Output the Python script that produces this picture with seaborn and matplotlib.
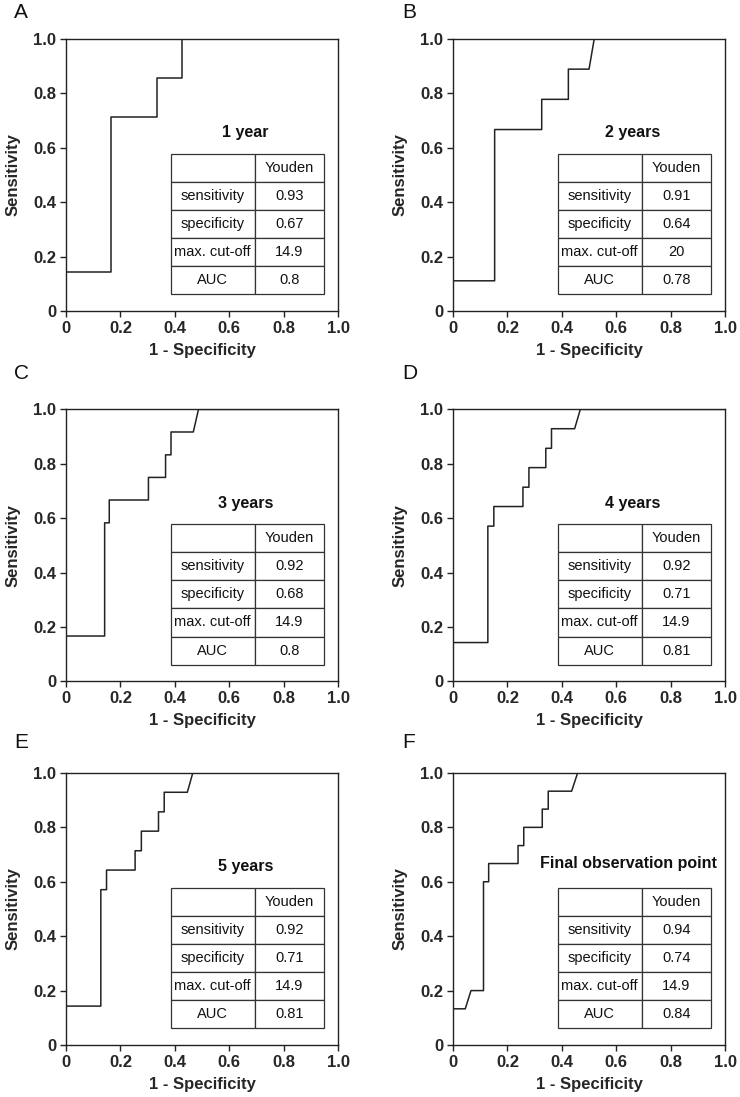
import matplotlib
matplotlib.use('Agg')
from matplotlib import pyplot as plt
import pandas as pd
import seaborn as sns

# ROC curve vertices (1 - specificity, sensitivity)
fpr_a = [0, 0.167, 0.167, 0.333, 0.333, 0.428, 0.428, 1.0]
tpr_a = [0.143, 0.143, 0.714, 0.714, 0.857, 0.857, 1.0, 1.0]

fpr_b = [0, 0.153, 0.153, 0.326, 0.326, 0.424, 0.424, 0.500, 0.519, 1.0]
tpr_b = [0.111, 0.111, 0.667, 0.667, 0.778, 0.778, 0.889, 0.889, 1.0, 1.0]

fpr_c = [0, 0.142, 0.142, 0.159, 0.159, 0.303, 0.303, 0.366, 0.366, 0.386, 0.386, 0.468, 0.487, 1.0]
tpr_c = [0.167, 0.167, 0.583, 0.583, 0.667, 0.667, 0.750, 0.750, 0.833, 0.833, 0.917, 0.917, 1.0, 1.0]

fpr_d = [0, 0.128, 0.128, 0.150, 0.150, 0.257, 0.257, 0.279, 0.279, 0.341, 0.341, 0.362, 0.362, 0.447, 0.468, 1.0]
tpr_d = [0.143, 0.143, 0.571, 0.571, 0.643, 0.643, 0.714, 0.714, 0.786, 0.786, 0.857, 0.857, 0.929, 0.929, 1.0, 1.0]

fpr_e = [0, 0.128, 0.128, 0.149, 0.149, 0.254, 0.254, 0.277, 0.277, 0.340, 0.340, 0.361, 0.361, 0.446, 0.466, 1.0]
tpr_e = [0.143, 0.143, 0.571, 0.571, 0.643, 0.643, 0.714, 0.714, 0.786, 0.786, 0.857, 0.857, 0.929, 0.929, 1.0, 1.0]

fpr_f = [0, 0.045, 0.066, 0.112, 0.112, 0.131, 0.131, 0.239, 0.239, 0.260, 0.260, 0.328, 0.328, 0.350, 0.350, 0.436, 0.458, 1.0]
tpr_f = [0.133, 0.133, 0.200, 0.200, 0.600, 0.600, 0.667, 0.667, 0.733, 0.733, 0.800, 0.800, 0.867, 0.867, 0.933, 0.933, 1.0, 1.0]

# table contents
panel_letters = ['A', 'B', 'C', 'D', 'E', 'F']
panel_titles = ['1 year', '2 years', '3 years', '4 years', '5 years', 'Final observation point']
row_names = ['sensitivity', 'specificity', 'max. cut-off', 'AUC']
youden_sens = ['0.93', '0.91', '0.92', '0.92', '0.92', '0.94']
youden_spec = ['0.67', '0.64', '0.68', '0.71', '0.71', '0.74']
youden_cut = ['14.9', '20', '14.9', '14.9', '14.9', '14.9']
youden_auc = ['0.8', '0.78', '0.8', '0.81', '0.81', '0.84']

tick_vals = [0, 0.2, 0.4, 0.6, 0.8, 1.0]
tick_labels = ['0', '0.2', '0.4', '0.6', '0.8', '1.0']

curves = [(fpr_a, tpr_a), (fpr_b, tpr_b), (fpr_c, tpr_c),
          (fpr_d, tpr_d), (fpr_e, tpr_e), (fpr_f, tpr_f)]

sns.set_style('ticks')
plt.rcParams['font.family'] = ['Liberation Sans', 'DejaVu Sans']

fig = plt.figure(figsize=(7.4, 10.97), dpi=100)

lefts = [0.0892, 0.6122]
bottoms = [0.7165, 0.3788, 0.0474]
letter_tops = [3, 364, 733]
letter_x = [14, 402]
dark = '#222222'

for i in range(6):
    r, c = divmod(i, 2)
    ax = fig.add_axes([lefts[c], bottoms[r], 0.3676, 0.248])
    df = pd.DataFrame({'fpr': curves[i][0], 'tpr': curves[i][1]})
    sns.lineplot(data=df, x='fpr', y='tpr', sort=False, estimator=None,
                 color=dark, linewidth=1.1, ax=ax)
    ax.set_xlim(0, 1)
    ax.set_ylim(0, 1)
    ax.set_xticks(tick_vals)
    ax.set_xticklabels(tick_labels)
    ax.set_yticks(tick_vals)
    ax.set_yticklabels(tick_labels)
    ax.tick_params(direction='out', length=4, width=1, color=dark,
                   labelsize=12, pad=3)
    for lab in ax.get_xticklabels() + ax.get_yticklabels():
        lab.set_fontweight('bold')
    for sp in ax.spines.values():
        sp.set_color(dark)
        sp.set_linewidth(1.0)
    ax.set_xlabel('1 - Specificity', fontsize=12, fontweight='bold', labelpad=5)
    ax.set_ylabel('Sensitivity', fontsize=12, fontweight='bold', labelpad=9)

    # Youden table
    cells = [['', 'Youden'],
             [row_names[0], youden_sens[i]],
             [row_names[1], youden_spec[i]],
             [row_names[2], youden_cut[i]],
             [row_names[3], youden_auc[i]]]
    tb = ax.table(cellText=cells, colWidths=[0.55, 0.45], cellLoc='center',
                  bbox=[0.385, 0.062, 0.562, 0.516])
    tb.auto_set_font_size(False)
    tb.set_fontsize(10.5)
    for cell in tb.get_celld().values():
        cell.set_edgecolor('#333333')
        cell.set_linewidth(0.9)
        cell.get_text().set_color('#111111')

    ty = 0.668 if i == 5 else 0.655
    tx = 0.645 if i == 5 else 0.66
    ax.text(tx, ty, panel_titles[i], ha='center', va='center',
            fontsize=11.5, fontweight='bold', color='#111111')

    fig.text(letter_x[c] / 740, 1 - letter_tops[r] / 1097, panel_letters[i],
             ha='left', va='top', fontsize=15, color='#111111')

fig.savefig('out.png', dpi=100)
